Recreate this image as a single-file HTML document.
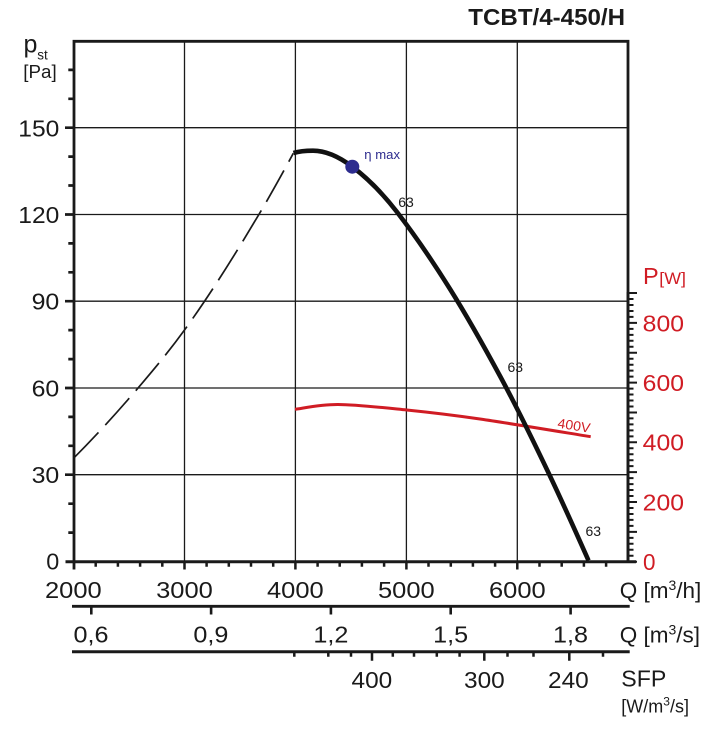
<!DOCTYPE html>
<html><head><meta charset="utf-8"><style>
html,body{margin:0;padding:0;background:#fff;}
svg{display:block;font-family:"Liberation Sans",Arial,sans-serif;}
</style></head><body>
<svg width="718" height="731" viewBox="0 0 718 731" xmlns="http://www.w3.org/2000/svg">
<!-- title -->
<text x="468.3" y="25" font-size="23" font-weight="bold" fill="#1a1a1a" textLength="156.7" lengthAdjust="spacingAndGlyphs">TCBT/4-450/H</text>
<!-- p_st -->
<text x="23.5" y="52.5" font-size="25" fill="#1a1a1a">p</text>
<text x="37.3" y="59.5" font-size="13.5" fill="#1a1a1a">st</text>
<text x="23.3" y="78" font-size="18" fill="#1a1a1a" textLength="33.4" lengthAdjust="spacingAndGlyphs">[Pa]</text>
<!-- gridlines -->
<g stroke="#1a1a1a" stroke-width="1.3" fill="none">
<path d="M184.5,41V561.5 M295.4,41V561.5 M406.4,41V561.5 M517.3,41V561.5"/>
<path d="M74,127.7H628 M74,214.5H628 M74,301.2H628 M74,388H628 M74,474.7H628"/>
</g>
<!-- frame -->
<g stroke="#1a1a1a" fill="none">
<path d="M74,569.5V41.3H628V561.7" stroke-width="2.8"/>
<path d="M65.5,561.7H636" stroke-width="3"/>
<!-- left ticks -->
<path stroke-width="2.7" d="M65,474.7H74 M65,388H74 M65,301.2H74 M65,214.5H74 M65,127.7H74
M68.3,532.6H74 M68.3,503.7H74 M68.3,445.8H74 M68.3,416.9H74 M68.3,359.1H74 M68.3,330.1H74 M68.3,272.3H74 M68.3,243.4H74 M68.3,185.5H74 M68.3,156.6H74 M68.3,98.8H74 M68.3,69.9H74"/>
<!-- bottom ticks -->
<path stroke-width="2.5" d="M184.5,561V569.5 M295.4,561V569.5 M406.4,561V569.5 M517.3,561V569.5
M95.7,561V566.8 M117.9,561V566.8 M140.1,561V566.8 M162.3,561V566.8 M206.6,561V566.8 M228.8,561V566.8 M251,561V566.8 M273.2,561V566.8 M317.6,561V566.8 M339.7,561V566.8 M361.9,561V566.8 M384.1,561V566.8 M428.5,561V566.8 M450.8,561V566.8 M472.9,561V566.8 M495.1,561V566.8 M539.5,561V566.8 M561.7,561V566.8 M583.9,561V566.8 M606.1,561V566.8"/>
<!-- right ticks -->
<path stroke-width="2" d="M628,561.7H637 M628,531.85H637 M628,502H637 M628,472.15H637 M628,442.3H637 M628,412.45H637 M628,382.6H637 M628,352.75H637 M628,322.9H637 M628,293.05H637
M628,555.73H633.5 M628,549.76H633.5 M628,543.79H633.5 M628,537.82H633.5 M628,525.88H633.5 M628,519.91H633.5 M628,513.94H633.5 M628,507.97H633.5 M628,496.03H633.5 M628,490.06H633.5 M628,484.09H633.5 M628,478.12H633.5 M628,466.18H633.5 M628,460.21H633.5 M628,454.24H633.5 M628,448.27H633.5 M628,436.33H633.5 M628,430.36H633.5 M628,424.39H633.5 M628,418.42H633.5 M628,406.48H633.5 M628,400.51H633.5 M628,394.54H633.5 M628,388.57H633.5 M628,376.63H633.5 M628,370.66H633.5 M628,364.69H633.5 M628,358.72H633.5 M628,346.78H633.5 M628,340.81H633.5 M628,334.84H633.5 M628,328.87H633.5 M628,316.93H633.5 M628,310.96H633.5 M628,304.99H633.5 M628,299.02H633.5"/>
<path d="M628,292V562" stroke-width="2.8"/>
<!-- m3/s axis -->
<path d="M72,606.3H629.7" stroke-width="2.8"/>
<path stroke-width="2.6" d="M91.3,606V614.5 M211.1,606V614.5 M330.9,606V614.5 M450.7,606V614.5 M570.6,606V614.5"/>
<!-- SFP axis -->
<path d="M72,651.7H629.7" stroke-width="3"/>
<path stroke-width="2.5" d="M372,651V660.7 M484.3,651V660.7 M569.3,651V660.7
M294.3,651V656.8 M328.3,651V656.8 M351,651V656.8 M392.8,651V656.8 M414,651V656.8 M436.8,651V656.8 M459.6,651V656.8 M507.5,651V656.8 M533.5,651V656.8 M603,651V656.8"/>
</g>
<!-- left labels -->
<g font-size="23" fill="#1a1a1a">
<text x="18.3" y="136.3" textLength="41" lengthAdjust="spacingAndGlyphs">150</text>
<text x="18.3" y="223" textLength="41" lengthAdjust="spacingAndGlyphs">120</text>
<text x="31.6" y="309.7" textLength="27.7" lengthAdjust="spacingAndGlyphs">90</text>
<text x="31.6" y="396.5" textLength="27.7" lengthAdjust="spacingAndGlyphs">60</text>
<text x="31.6" y="483.2" textLength="27.7" lengthAdjust="spacingAndGlyphs">30</text>
<text x="46.3" y="569.5" textLength="13" lengthAdjust="spacingAndGlyphs">0</text>
<!-- bottom Q m3/h -->
<text x="45" y="598.2" textLength="56.7" lengthAdjust="spacingAndGlyphs">2000</text>
<text x="156.1" y="598.2" textLength="56.7" lengthAdjust="spacingAndGlyphs">3000</text>
<text x="267" y="598.2" textLength="56.7" lengthAdjust="spacingAndGlyphs">4000</text>
<text x="378" y="598.2" textLength="56.7" lengthAdjust="spacingAndGlyphs">5000</text>
<text x="489" y="598.2" textLength="56.7" lengthAdjust="spacingAndGlyphs">6000</text>
<text x="619.7" y="598.2" font-size="22.5">Q [m<tspan font-size="14" dy="-8">3</tspan><tspan dy="8">/h]</tspan></text>
<!-- m3/s -->
<text x="73.5" y="642.3" textLength="35" lengthAdjust="spacingAndGlyphs">0,6</text>
<text x="193.4" y="642.3" textLength="35" lengthAdjust="spacingAndGlyphs">0,9</text>
<text x="313.4" y="642.3" textLength="35" lengthAdjust="spacingAndGlyphs">1,2</text>
<text x="433.2" y="642.3" textLength="35" lengthAdjust="spacingAndGlyphs">1,5</text>
<text x="553" y="642.3" textLength="35" lengthAdjust="spacingAndGlyphs">1,8</text>
<text x="619.7" y="642.3" font-size="22.5">Q [m<tspan font-size="14" dy="-8">3</tspan><tspan dy="8">/s]</tspan></text>
<!-- SFP -->
<text x="351.5" y="688" textLength="40.7" lengthAdjust="spacingAndGlyphs">400</text>
<text x="464" y="688" textLength="40.7" lengthAdjust="spacingAndGlyphs">300</text>
<text x="548" y="688" textLength="40.7" lengthAdjust="spacingAndGlyphs">240</text>
<text x="621.3" y="686.7" font-size="23" textLength="45" lengthAdjust="spacingAndGlyphs">SFP</text>
</g>
<text x="621.3" y="712.5" font-size="18" fill="#1a1a1a">[W/m<tspan font-size="12" dy="-7">3</tspan><tspan dy="7">/s]</tspan></text>
<!-- right labels -->
<g font-size="23" fill="#d01c24">
<text x="642.7" y="331.3" textLength="41.3" lengthAdjust="spacingAndGlyphs">800</text>
<text x="642.7" y="391" textLength="41.3" lengthAdjust="spacingAndGlyphs">600</text>
<text x="642.7" y="450.7" textLength="41.3" lengthAdjust="spacingAndGlyphs">400</text>
<text x="642.7" y="510.3" textLength="41.3" lengthAdjust="spacingAndGlyphs">200</text>
<text x="643" y="570" textLength="12.5" lengthAdjust="spacingAndGlyphs">0</text>
<text x="643" y="284" font-size="23.5">P</text>
<text x="659.3" y="284" font-size="17" textLength="26.7" lengthAdjust="spacingAndGlyphs">[W]</text>
</g>
<!-- curves -->
<path d="M73.5,458.3 C95.1,436.7 116.7,412.97 138.3,387.7 C153.7,369.68 169.1,351.25 184.5,330 C209.33,295.73 234.17,256.02 259,214.3 C270.43,195.1 281.87,174.45 293.3,153.3" fill="none" stroke="#1a1a1a" stroke-width="1.7" stroke-dasharray="36 10"/>
<path d="M295,409.3 C302.2,408.5 319.4,404.4 338,404.5 C356.6,404.6 383,407.6 406.7,410 C430.4,412.4 449.3,414.55 480,419 C510.7,423.45 572.25,433.75 590.7,436.7" fill="none" stroke="#d01c24" stroke-width="3"/>
<path d="M293.5,153 C300,151.05 306.5,150.7 313,150.7 C326,150.7 339,156.75 352,166.5 C367,177.75 382,192.5 397,212 C414.67,234.97 432.33,260.73 450,289 C466.67,315.67 483.33,345.17 500,376 C516.67,406.83 533.33,441 550,476 C562.83,502.95 575.67,531.62 588.5,560.5" fill="none" stroke="#111" stroke-width="4.6"/>
<circle cx="352.3" cy="166.7" r="7" fill="#2d2c8e"/>
<text x="364.3" y="159" font-size="13" fill="#2d2c8e" textLength="35.7" lengthAdjust="spacingAndGlyphs">η max</text>
<g font-size="14" fill="#1a1a1a" text-anchor="middle">
<text x="406" y="207">63</text>
<text x="515.3" y="372">63</text>
<text x="593.3" y="536">63</text>
</g>
<text x="0" y="0" font-size="13.5" fill="#d01c24" textLength="33" lengthAdjust="spacingAndGlyphs" transform="translate(557,427.5) rotate(9)">400V</text>
</svg>
</body></html>
